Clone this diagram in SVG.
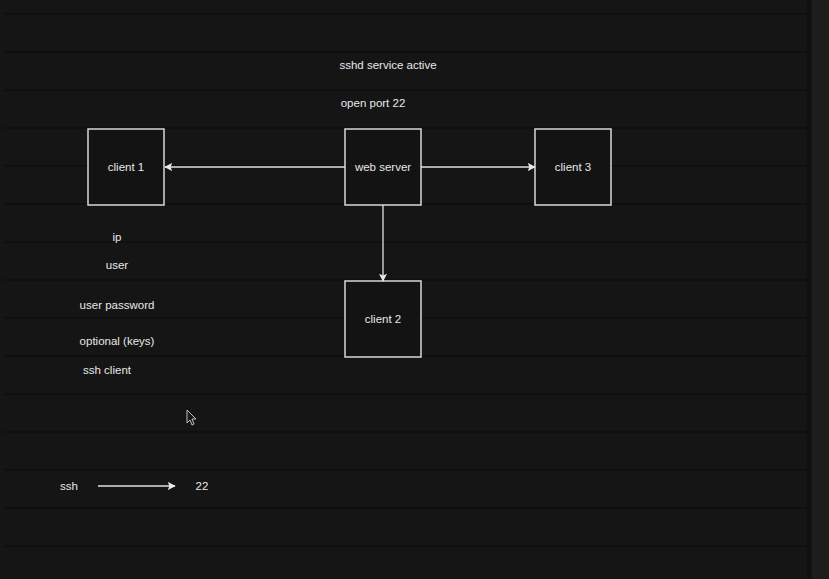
<svg xmlns="http://www.w3.org/2000/svg" width="829" height="579" viewBox="0 0 829 579">
<defs>
<style>
.bg{fill:#151515}
.grid line{stroke:#0e0e0e;stroke-width:1.5}
.node rect{fill:#131313;stroke:#d8d8d8;stroke-width:1.5}
text{font-family:"Liberation Sans",Arial,sans-serif;font-size:11.5px;fill:#e8e8e8;text-anchor:middle;dominant-baseline:central}
.conn line{stroke:#e0e0e0;stroke-width:1.3}
</style>
<marker id="ah" viewBox="0 0 10 10" refX="9" refY="5" markerWidth="8" markerHeight="8" markerUnits="userSpaceOnUse" orient="auto">
<path d="M0,0 L10,5 L0,10 L2,5 Z" fill="#e8e8e8"/>
</marker>
</defs>
<rect class="bg" x="0" y="0" width="829" height="579"/>
<rect x="812" y="0" width="17" height="579" fill="#1d1d1d"/>
<rect x="807" y="0" width="4" height="579" fill="#101010"/>
<g class="grid">
<line x1="4" y1="14" x2="808" y2="14"/>
<line x1="4" y1="52" x2="808" y2="52"/>
<line x1="4" y1="90" x2="808" y2="90" stroke="#272727"/>
<line x1="4" y1="128" x2="808" y2="128"/>
<line x1="4" y1="166" x2="808" y2="166"/>
<line x1="4" y1="204" x2="808" y2="204"/>
<line x1="4" y1="242" x2="808" y2="242"/>
<line x1="4" y1="280" x2="808" y2="280"/>
<line x1="4" y1="318" x2="808" y2="318"/>
<line x1="4" y1="356" x2="808" y2="356"/>
<line x1="4" y1="394" x2="808" y2="394"/>
<line x1="4" y1="432" x2="808" y2="432"/>
<line x1="4" y1="470" x2="808" y2="470"/>
<line x1="4" y1="508" x2="808" y2="508"/>
<line x1="4" y1="546" x2="808" y2="546"/>
</g>
<g id="label-sshd"><text x="388" y="65">sshd service active</text></g>
<g id="label-port"><text x="373" y="103">open port 22</text></g>
<g id="client1" class="node"><rect x="88" y="129" width="76" height="76"/><text x="126" y="167">client 1</text></g>
<g id="webserver" class="node"><rect x="345" y="129" width="76" height="76"/><text x="383" y="167">web server</text></g>
<g id="client3" class="node"><rect x="535" y="129" width="76" height="76"/><text x="573" y="167">client 3</text></g>
<g id="client2" class="node"><rect x="345" y="281" width="76" height="76"/><text x="383" y="319">client 2</text></g>
<g id="connectors" class="conn">
<line x1="345" y1="167" x2="165" y2="167" marker-end="url(#ah)"/>
<line x1="421" y1="167" x2="535" y2="167" marker-end="url(#ah)"/>
<line x1="383" y1="205" x2="383" y2="281" marker-end="url(#ah)"/>
<line x1="98" y1="486" x2="175" y2="486" marker-end="url(#ah)"/>
</g>
<g id="notes">
<text x="117" y="237">ip</text>
<text x="117" y="265">user</text>
<text x="117" y="305">user password</text>
<text x="117" y="341">optional (keys)</text>
<text x="107" y="370">ssh client</text>
<text x="69" y="486">ssh</text>
<text x="202" y="486">22</text>
</g>
<path d="M187,410 L187,423 L190,420 L192,425 L194,424 L192,419 L196,419 Z" fill="#1a1a1a" stroke="#d0d0d0" stroke-width="0.9"/>
</svg>
